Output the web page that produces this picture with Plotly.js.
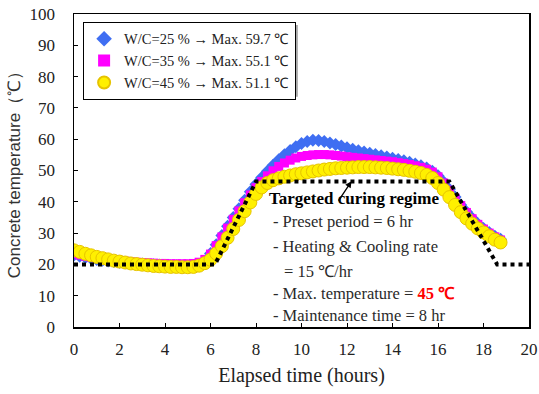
<!DOCTYPE html>
<html>
<head>
<meta charset="utf-8">
<script src="https://cdn.plot.ly/plotly-3.0.1.min.js"></script>
<style>html,body{margin:0;padding:0;background:#fff;}#chart{width:539px;height:394px;}</style>
</head>
<body>
<div id="chart"></div>
<script>
// Elapsed time (hours)
const timeHours = [0,0.25,0.5,0.75,1,1.25,1.5,1.75,2,2.25,2.5,2.75,3,3.25,3.5,3.75,4,4.25,4.5,4.75,5,5.25,5.5,5.75,6,6.25,6.5,6.75,7,7.25,7.5,7.75,8,8.25,8.5,8.75,9,9.25,9.5,9.75,10,10.25,10.5,10.75,11,11.25,11.5,11.75,12,12.25,12.5,12.75,13,13.25,13.5,13.75,14,14.25,14.5,14.75,15,15.25,15.5,15.75,16,16.25,16.5,16.75,17,17.25,17.5,17.75,18,18.25,18.5,18.75];
// W/C=25 %
const wc25 = [23.0,22.6,22.2,21.9,21.6,21.3,21.1,20.9,20.7,20.5,20.4,20.2,20.1,20.0,19.9,19.8,19.7,19.6,19.6,19.5,19.5,19.6,20.0,21.0,23.5,26.3,29.2,32.2,35.0,37.8,40.5,43.2,45.6,47.8,49.8,51.7,53.4,55.0,56.4,57.6,58.6,59.3,59.7,59.6,59.3,58.8,58.3,57.8,57.3,56.8,56.3,55.9,55.5,55.1,54.7,54.3,53.9,53.5,53.1,52.6,52.1,51.5,50.8,49.8,48.3,46.3,44.0,41.5,39.0,36.8,34.8,33.0,31.5,30.2,29.0,28.0];
// W/C=35 %
const wc35 = [23.5,23.0,22.6,22.3,22.0,21.7,21.5,21.3,21.1,21.0,20.8,20.7,20.6,20.5,20.4,20.3,20.3,20.2,20.2,20.2,20.2,20.3,20.7,21.6,23.3,26.0,28.8,31.6,34.4,37.1,39.7,42.2,44.5,46.5,48.3,49.9,51.3,52.4,53.3,54.0,54.5,54.8,55.0,55.1,55.1,55.0,54.8,54.6,54.4,54.2,54.0,53.8,53.6,53.4,53.2,53.0,52.8,52.5,52.2,51.9,51.5,51.0,50.4,49.5,48.0,46.0,43.7,41.2,38.8,36.6,34.6,32.8,31.3,30.0,28.8,27.8];
// W/C=45 %
const wc45 = [24.5,24.0,23.4,22.9,22.4,22.0,21.6,21.2,20.9,20.6,20.3,20.1,19.9,19.7,19.5,19.4,19.3,19.2,19.2,19.1,19.1,19.2,19.6,20.4,21.5,23.5,25.8,28.5,31.3,34.2,37.0,39.8,42.5,44.6,46.0,46.9,47.5,48.0,48.4,48.8,49.1,49.4,49.7,50.0,50.3,50.5,50.7,50.8,50.9,51.0,51.1,51.1,51.1,51.0,50.9,50.8,50.6,50.4,50.2,49.9,49.6,49.2,48.6,47.6,46.0,43.9,41.5,39.0,36.7,34.7,33.0,31.5,30.2,29.0,27.9,27.0];
// Targeted curing regime
const targetTime = [0,6.2,8.0,16.5,18.6,20];
const targetTemp = [20,20,46.5,46.5,20,20];

const seriesNames = ["W/C=25 % \u2192 Max. 59.7 \u2103","W/C=35 % \u2192 Max. 55.1 \u2103","W/C=45 % \u2192 Max. 51.1 \u2103"];
const xTicks = [0,2,4,6,8,10,12,14,16,18,20];
const yTicks = [0,10,20,30,40,50,60,70,80,90,100];

const serif = "Liberation Serif";
const sans = "Liberation Sans";

const traces = [
  {x: timeHours, y: wc25, name: seriesNames[0], mode: 'markers', type: 'scatter',
   marker: {symbol: 'diamond', size: 10, color: '#3F6EF2'}},
  {x: timeHours, y: wc35, name: seriesNames[1], mode: 'markers', type: 'scatter',
   marker: {symbol: 'square', size: 9, color: '#FF00FF'}},
  {x: timeHours, y: wc45, name: seriesNames[2], mode: 'markers', type: 'scatter',
   marker: {symbol: 'circle', size: 13, color: '#FFF000', line: {color: '#E6C300', width: 1}}},
  {x: targetTime, y: targetTemp, name: 'Target', mode: 'lines', type: 'scatter', showlegend: false,
   line: {color: '#000', width: 4, dash: 'dot'}}
];

const bodyFont = {family: serif, size: 16.5, color: '#2a2a2a'};
const ann = (y, text, x, extra) => Object.assign({x: x, y: y, xref: 'x', yref: 'y', text: text, showarrow: false,
  xanchor: 'left', yanchor: 'middle', font: bodyFont}, extra || {});

const layout = {
  width: 539, height: 394,
  margin: {l: 74, r: 10, t: 14, b: 67},
  paper_bgcolor: '#fff', plot_bgcolor: '#fff',
  font: {family: serif},
  showlegend: true,
  legend: {x: 0.02, y: 0.975, xanchor: 'left', yanchor: 'top', bgcolor: '#fff',
           bordercolor: '#000', borderwidth: 1, font: {family: serif, size: 14.5, color: '#222'},
           tracegroupgap: 0, itemwidth: 30, itemsizing: 'constant'},
  xaxis: {range: [0, 20], tickvals: xTicks, ticks: 'inside', ticklen: 4, tickcolor: '#000',
          showline: true, linecolor: '#000', linewidth: 1.5, mirror: true, showgrid: false, zeroline: false,
          tickfont: {family: serif, size: 17, color: '#222'}, ticklabelstandoff: 6,
          title: {text: 'Elapsed time (hours)', font: {family: serif, size: 20, color: '#222'}, standoff: 10}},
  yaxis: {range: [0, 100], tickvals: yTicks, ticks: 'inside', ticklen: 4, tickcolor: '#000',
          showline: true, linecolor: '#000', linewidth: 1.5, mirror: true, showgrid: false, zeroline: false,
          tickfont: {family: serif, size: 17, color: '#222'}, ticklabelstandoff: 14,
          title: {text: 'Concrete temperature\uFF08\u2103\uFF09', font: {family: sans, size: 17, color: '#333'}, standoff: 4}},
  shapes: [
    {type: 'rect', xref: 'paper', yref: 'paper', x0: 0.0264, x1: 0.492, y0: 0.736, y1: 0.965,
     fillcolor: '#8c8c8c', opacity: 0.75, line: {width: 0}, layer: 'above'}
  ],
  annotations: [
    ann(41.2, '<b>Targeted curing regime</b>', 8.5, {font: {family: serif, size: 17, color: '#000'}}),
    ann(33.6, '- Preset period = 6 hr', 8.65),
    ann(25.6, '- Heating &amp; Cooling rate', 8.65),
    ann(17.6, '= 15 \u2103/hr', 9.15),
    ann(10.6, '- Max. temperature = <span style="color:#FF0000"><b>45 \u2103</b></span>', 8.65),
    ann(3.7, '- Maintenance time = 8 hr', 8.65),
    {x: 12.2, y: 46.6, xref: 'x', yref: 'y', text: '', showarrow: true, ax: -14, ay: 21,
     arrowhead: 2, arrowsize: 1, arrowwidth: 1.3, arrowcolor: '#000'}
  ]
};

Plotly.newPlot('chart', traces, layout, {displayModeBar: false, staticPlot: true});
</script>
</body>
</html>
